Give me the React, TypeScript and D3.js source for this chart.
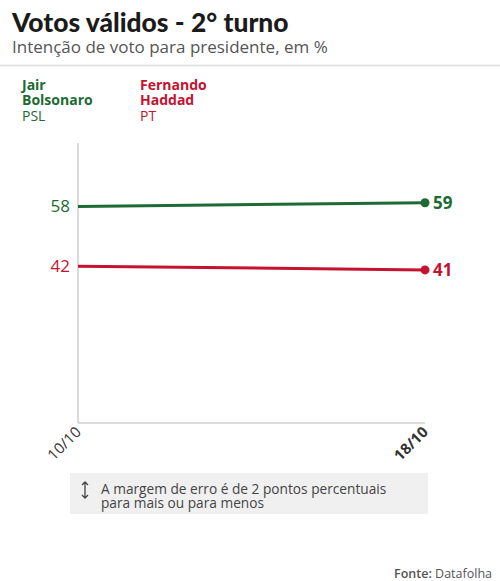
import React from 'react'
import * as d3 from 'd3'

// dados
const dates = ['10/10', '18/10']
const bolsonaro = [58, 59]
const haddad = [42, 41]
const yDomain = [0, 75]

const GREEN = '#1d6a33'
const RED = '#c4122f'
const SANS = '"Open Sans", "Noto Sans", sans-serif'

export default function App() {
  const [W, H] = [500, 581]

  const x = d3.scalePoint<string>().domain(dates).range([78, 425])
  const y = d3.scaleLinear().domain(yDomain).range([423, 143])

  const line = d3.line<number>()
    .x((_, i) => x(dates[i])!)
    .y(d => y(d))

  const series = [
    { name: 'bolsonaro', values: bolsonaro, color: GREEN },
    { name: 'haddad', values: haddad, color: RED },
  ]

  const last = dates.length - 1

  return (
    <svg width={W} height={H} style={{ position: 'absolute', left: 0, top: 0, background: '#fff' }}>
      {/* título */}
      <text x={12} y={32} fontFamily='Lato, "Noto Sans", sans-serif' fontWeight={900} fontSize={26.4} fill="#1b1b1b">
        Votos válidos - 2° turno
      </text>
      <text x={12} y={53} fontFamily={SANS} fontSize={17} fill="#555">
        Intenção de voto para presidente, em %
      </text>
      <line x1={0} x2={W} y1={65.5} y2={65.5} stroke="#e2e2e2" strokeWidth={2} />

      {/* legenda */}
      <g fontFamily={SANS} fontSize={14}>
        <text x={22} y={90} fill={GREEN} fontWeight={700}>Jair</text>
        <text x={22} y={105} fill={GREEN} fontWeight={700}>Bolsonaro</text>
        <text x={22} y={121} fill={GREEN}>PSL</text>
        <text x={140} y={90} fill={RED} fontWeight={700}>Fernando</text>
        <text x={140} y={105} fill={RED} fontWeight={700}>Haddad</text>
        <text x={140} y={121} fill={RED}>PT</text>
      </g>

      {/* eixos */}
      <line x1={x(dates[0])} x2={x(dates[0])} y1={y(yDomain[1])} y2={y(0)} stroke="#cfcfcf" strokeWidth={1.5} />
      <line x1={x(dates[0])} x2={x(dates[last])} y1={y(0)} y2={y(0)} stroke="#cfcfcf" strokeWidth={1.5} />
      {dates.map((d, i) => (
        <text key={d}
          transform={`translate(${x(d)! + 4},${433}) rotate(-45)`}
          textAnchor="end" fontFamily={SANS} fontSize={15}
          fontWeight={i === last ? 700 : 400} fill="#333">
          {d}
        </text>
      ))}

      {/* linhas */}
      {series.map(s => (
        <g key={s.name}>
          <path d={line(s.values)!} fill="none" stroke={s.color} strokeWidth={3} />
          <circle cx={x(dates[last])} cy={y(s.values[last])} r={4.5} fill={s.color} />
          <text x={x(dates[0])! - 8} y={y(s.values[0])} dy="0.35em" textAnchor="end"
            fontFamily={SANS} fontSize={17} fill={s.color}>
            {s.values[0]}
          </text>
          <text x={x(dates[last])! + 8} y={y(s.values[last])} dy="0.35em"
            fontFamily={SANS} fontSize={17} fontWeight={700} fill={s.color}>
            {s.values[last]}
          </text>
        </g>
      ))}

      {/* nota */}
      <rect x={70} y={473} width={358} height={41} fill="#f0f0f0" />
      <g stroke="#444" strokeWidth={1.3} fill="none">
        <path d="M85,482 V498 M82,485 L85,482 L88,485 M82,495 L85,498 L88,495" />
      </g>
      <text fontFamily={SANS} fontSize={13.7} fill="#444">
        <tspan x={101} y={494}>A margem de erro é de 2 pontos percentuais</tspan>
        <tspan x={101} y={508}>para mais ou para menos</tspan>
      </text>

      <text x={492} y={578} textAnchor="end" fontFamily={SANS} fontSize={12.5} fill="#555">
        <tspan fontWeight={600}>Fonte:</tspan> Datafolha
      </text>
    </svg>
  )
}
